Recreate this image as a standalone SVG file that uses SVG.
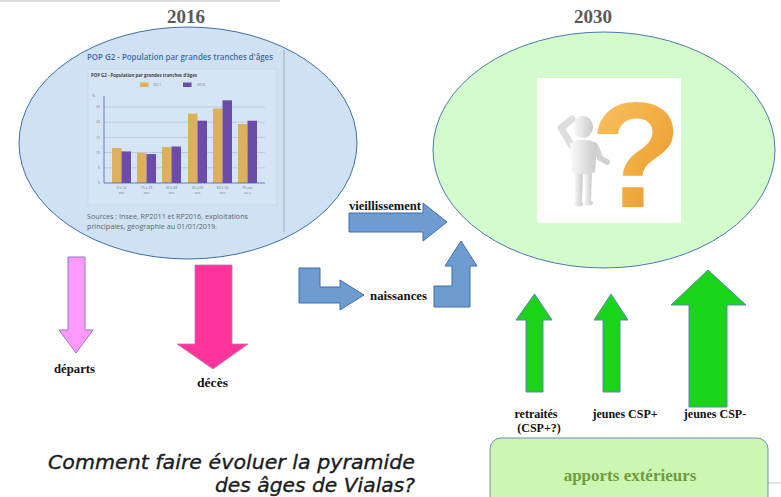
<svg xmlns="http://www.w3.org/2000/svg" width="781" height="497" viewBox="0 0 781 497">
  <defs>
    <style>
      .year { font-family: "Liberation Serif", serif; font-weight: bold; font-size: 19px; fill: #595959; text-anchor: middle; }
      .lbl { font-family: "Liberation Serif", serif; font-weight: bold; font-size: 12px; fill: #111; }
      .blue-arrow { fill: #6d9bd2; stroke: #3f6fa6; stroke-width: 1; }
      .green-arrow { fill: #19d419; stroke: #5a86b0; stroke-width: 1; }
      .grid { stroke: #a9b6c8; stroke-width: 0.6; }
      .tick { font-family: "Open Sans", sans-serif; font-size: 3.6px; fill: #777; }
      .cat { font-family: "Open Sans", sans-serif; font-size: 3.4px; fill: #777; text-anchor: middle; }
      .b11 { fill: #ddb05c; }
      .b16 { fill: #6c4ca9; }
      .src { font-family: "Open Sans", sans-serif; font-size: 8px; fill: #5f6670; }
      .question { font-family: "DejaVu Sans", sans-serif; font-style: italic; font-size: 20px; fill: #1c1c1c; stroke: #1c1c1c; stroke-width: 0.35; }
    </style>
    <linearGradient id="skin" x1="0" y1="0" x2="1" y2="0">
      <stop offset="0" stop-color="#fbfbfb"/>
      <stop offset="1" stop-color="#c9c9c9"/>
    </linearGradient>
    <linearGradient id="gold" x1="0" y1="0" x2="1" y2="1">
      <stop offset="0" stop-color="#fbc868"/>
      <stop offset="0.6" stop-color="#f0a83c"/>
      <stop offset="1" stop-color="#d98a22"/>
    </linearGradient>
  </defs>

  <rect width="781" height="497" fill="#ffffff"/>
  <line x1="0" y1="1" x2="280" y2="1" stroke="#d0d0d0" stroke-width="1.5"/>
  <line x1="768" y1="483" x2="781" y2="483" stroke="#c8c8c8" stroke-width="1"/>

  <!-- 2016 population -->
  <g id="node-2016">
    <text class="year" x="186" y="23">2016</text>
    <ellipse cx="188" cy="143" rx="169" ry="116" fill="#d0e1f3" stroke="#3f6fa6" stroke-width="1"/>
    <line x1="284" y1="50" x2="284" y2="232" stroke="#9aa4b0" stroke-width="0.8"/>
    <text x="87" y="60" font-family="'Open Sans', sans-serif" font-weight="600" font-size="8.5" fill="#3d6da8" textLength="186" lengthAdjust="spacingAndGlyphs">POP G2 - Population par grandes tranches d'âges</text>
    <rect x="88" y="69" width="189" height="136" fill="#d6e5f5" stroke="#c2d0e0" stroke-width="0.6"/>
    <text x="91" y="77" font-family="'Open Sans', sans-serif" font-weight="bold" font-size="4.4" fill="#444" textLength="106" lengthAdjust="spacingAndGlyphs">POP G2 - Population par grandes tranches d'âges</text>
    <rect class="b11" x="140" y="82.5" width="8.5" height="4.5"/>
    <text class="tick" x="153" y="86.3">2011</text>
    <rect class="b16" x="183" y="82.5" width="8.5" height="4.5"/>
    <text class="tick" x="197" y="86.3">2016</text>
    <text class="tick" x="92" y="97">%</text>
    <g>
      <line class="grid" x1="104" y1="107" x2="265" y2="107"/>
      <line class="grid" x1="104" y1="122.2" x2="265" y2="122.2"/>
      <line class="grid" x1="104" y1="137.4" x2="265" y2="137.4"/>
      <line class="grid" x1="104" y1="152.6" x2="265" y2="152.6"/>
      <line class="grid" x1="104" y1="167.8" x2="265" y2="167.8"/>
      <text class="tick" x="100" y="108.2" text-anchor="end">25</text>
      <text class="tick" x="100" y="123.4" text-anchor="end">20</text>
      <text class="tick" x="100" y="138.6" text-anchor="end">15</text>
      <text class="tick" x="100" y="153.8" text-anchor="end">10</text>
      <text class="tick" x="100" y="169" text-anchor="end">5</text>
      <text class="tick" x="100" y="184.2" text-anchor="end">0</text>
    </g>
    <g>
      <rect class="b11" x="112" y="148" width="9.5" height="35"/>
      <rect class="b16" x="121.5" y="151.4" width="9.5" height="31.6"/>
      <rect class="b11" x="137" y="152.9" width="9.5" height="30.1"/>
      <rect class="b16" x="146.5" y="154.1" width="9.5" height="28.9"/>
      <rect class="b11" x="162" y="147.1" width="9.5" height="35.9"/>
      <rect class="b16" x="171.5" y="146.5" width="9.5" height="36.5"/>
      <rect class="b11" x="188" y="113.7" width="9.5" height="69.3"/>
      <rect class="b16" x="197.5" y="120.7" width="9.5" height="62.3"/>
      <rect class="b11" x="213" y="108.5" width="9.5" height="74.5"/>
      <rect class="b16" x="222.5" y="100.3" width="9.5" height="82.7"/>
      <rect class="b11" x="238" y="124" width="9.5" height="59"/>
      <rect class="b16" x="247.5" y="120.7" width="9.5" height="62.3"/>
    </g>
    <line x1="104" y1="96" x2="104" y2="183" stroke="#4a5fae" stroke-width="0.8"/>
    <line x1="104" y1="183" x2="265" y2="183" stroke="#4a5fae" stroke-width="0.8"/>
    <g>
      <text class="cat" x="121.5" y="189">0 à 14</text><text class="cat" x="121.5" y="193.5">ans</text>
      <text class="cat" x="146.5" y="189">15 à 29</text><text class="cat" x="146.5" y="193.5">ans</text>
      <text class="cat" x="171.5" y="189">30 à 44</text><text class="cat" x="171.5" y="193.5">ans</text>
      <text class="cat" x="197.5" y="189">45 à 59</text><text class="cat" x="197.5" y="193.5">ans</text>
      <text class="cat" x="222.5" y="189">60 à 74</text><text class="cat" x="222.5" y="193.5">ans</text>
      <text class="cat" x="247.5" y="189">75 ans</text><text class="cat" x="247.5" y="193.5">ou +</text>
    </g>
    <text class="src" x="87" y="219" textLength="161" lengthAdjust="spacingAndGlyphs">Sources : Insee, RP2011 et RP2016, exploitations</text>
    <text class="src" x="87" y="228.5" textLength="130" lengthAdjust="spacingAndGlyphs">principales, géographie au 01/01/2019.</text>
  </g>

  <!-- 2030 population -->
  <g id="node-2030">
    <text class="year" x="593" y="23">2030</text>
    <ellipse cx="604" cy="150" rx="171" ry="118" fill="#d4fbcc" stroke="#4a7ab0" stroke-width="1"/>
    <rect x="537" y="78" width="144" height="145" fill="#ffffff"/>
    <!-- pensive figure -->
    <g fill="url(#skin)">
      <polyline points="572,146 561,128 572,119" fill="none" stroke="#dedede" stroke-width="7" stroke-linecap="round" stroke-linejoin="round"/>
      <polyline points="596,147 600,158 607,162" fill="none" stroke="#d2d2d2" stroke-width="6" stroke-linecap="round" stroke-linejoin="round"/>
      <path d="M574,168 L583,168 L582,202 L575,202 Z"/>
      <path d="M584,168 L592,168 L591,201 L585,201 Z"/>
      <ellipse cx="578" cy="204" rx="5" ry="2.5"/>
      <ellipse cx="588" cy="203" rx="5" ry="2.5"/>
      <path d="M570,143 Q583,136 597,143 L595,172 Q583,176 572,172 Z"/>
      <ellipse cx="583" cy="127" rx="10" ry="11"/>
    </g>
    <text x="636" y="207" text-anchor="middle" font-family="'Liberation Sans', sans-serif" font-weight="bold" font-size="150" fill="url(#gold)">?</text>
  </g>

  <!-- flows between the two states -->
  <g id="connectors">
    <path class="blue-arrow" d="M349,213 L423,213 L423,203 L447,222 L423,241 L423,232 L349,232 Z"/>
    <path class="blue-arrow" d="M299,268 L320,268 L320,287 L340,287 L340,280 L364,295 L340,310 L340,303 L299,303 Z"/>
    <path class="blue-arrow" d="M434,307 L434,286 L452,286 L452,266 L445,266 L461,241 L477,266 L470,266 L470,307 Z"/>
    <path d="M68,257 L85,257 L85,330 L93,330 L76,353 L59,330 L68,330 Z" fill="#ff99ff" stroke="#9277b8" stroke-width="1"/>
    <path d="M195,265 L232,265 L232,344 L248,344 L213,369 L177,344 L195,344 Z" fill="#ff3399" stroke="#b07fb0" stroke-width="0.8"/>
    <path class="green-arrow" d="M526,392 L526,320 L516,320 L534.5,294 L552,320 L543,320 L543,392 Z"/>
    <path class="green-arrow" d="M603,392 L603,320 L594,320 L611,294 L628,320 L620,320 L620,392 Z"/>
    <path class="green-arrow" d="M689,407 L689,305 L671,305 L708,270 L746,305 L727,305 L727,407 Z"/>
  </g>

  <g id="label-vieillissement"><text class="lbl" x="349" y="210" textLength="72" lengthAdjust="spacingAndGlyphs">vieillissement</text></g>
  <g id="label-naissances"><text class="lbl" x="370" y="300" textLength="57" lengthAdjust="spacingAndGlyphs">naissances</text></g>
  <g id="label-departs"><text class="lbl" x="54" y="373" textLength="41" lengthAdjust="spacingAndGlyphs">départs</text></g>
  <g id="label-deces"><text class="lbl" x="197" y="387" textLength="31" lengthAdjust="spacingAndGlyphs">décès</text></g>
  <g id="label-retraites">
    <text class="lbl" x="536" y="418" text-anchor="middle">retraités</text>
    <text class="lbl" x="539" y="432" text-anchor="middle">(CSP+?)</text>
  </g>
  <g id="label-jeunes-plus"><text class="lbl" x="625" y="418" text-anchor="middle">jeunes CSP+</text></g>
  <g id="label-jeunes-moins"><text class="lbl" x="715" y="418" text-anchor="middle">jeunes CSP-</text></g>

  <g id="node-apports">
    <rect x="490" y="438" width="278" height="80" rx="11" fill="#ccf6b2" stroke="#6f8fae" stroke-width="1"/>
    <text x="630" y="481" text-anchor="middle" font-family="'Liberation Serif', serif" font-weight="bold" font-size="17" fill="#6e9c40">apports extérieurs</text>
  </g>

  <g id="caption">
    <text class="question" x="48" y="469" textLength="367" lengthAdjust="spacingAndGlyphs">Comment faire évoluer la pyramide</text>
    <text class="question" x="415" y="492" text-anchor="end" textLength="200" lengthAdjust="spacingAndGlyphs">des âges de Vialas?</text>
  </g>
</svg>
